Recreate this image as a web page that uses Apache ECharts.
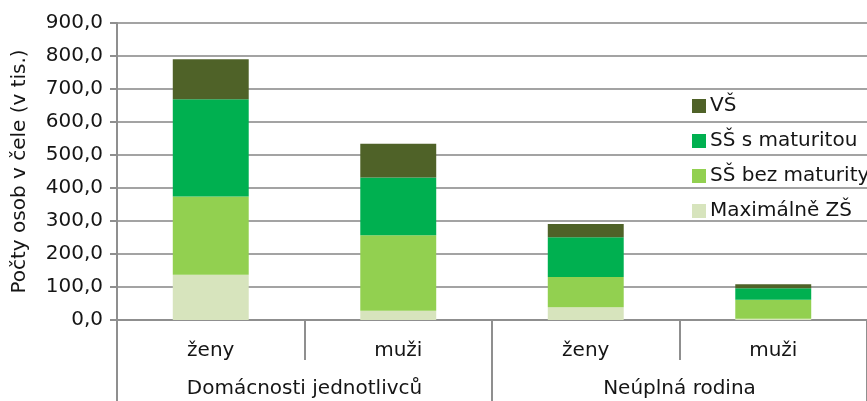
<!DOCTYPE html>
<html>
<head>
<meta charset="utf-8">
<script src="https://cdn.jsdelivr.net/npm/echarts@6/dist/echarts.min.js"></script>
<style>
  html, body { margin: 0; padding: 0; background: #fff; }
  #chart { width: 867px; height: 401px; }
</style>
</head>
<body>
<div id="chart"></div>
<script>
const categories = ['ženy', 'muži', 'ženy', 'muži']
const groups = ['Domácnosti jednotlivců', 'Neúplná rodina']
const yTicks = [0, 900, 100]

// stack order bottom -> top
const maxZs = [137, 28, 39, 4]
const ssBez = [237, 229, 91, 57]
const ssMat = [295, 175, 121, 35]
const vs = [121, 102, 40, 12]

const seriesNames = ['Maximálně ZŠ', 'SŠ bez maturity', 'SŠ s maturitou', 'VŠ']
const seriesColors = ['#d7e4bd', '#92d050', '#00b050', '#4f6228']
const seriesData = [maxZs, ssBez, ssMat, vs]

const font = 'DejaVu Sans'
const fontSize = 20
const textColor = '#151515'
const lineColor = '#a3a3a3'
const axisColor = '#8f8f8f'

const getOption = () => ({
  animation: false,
  textStyle: { fontFamily: font, color: textColor },
  grid: { left: 117, right: 0, top: 23, bottom: 81 },
  legend: {
    orient: 'vertical',
    left: 687,
    top: 91,
    itemWidth: 14,
    itemHeight: 14,
    itemGap: 15,
    icon: 'rect',
    selectedMode: false,
    textStyle: { fontFamily: font, fontSize, color: textColor, padding: [0, 0, 0, -1] },
    data: seriesNames.slice().reverse(),
  },
  xAxis: [
    {
      type: 'category',
      data: categories,
      axisLine: { lineStyle: { color: axisColor, width: 2 } },
      axisTick: { show: true, interval: 0, length: 40, lineStyle: { color: axisColor, width: 2 } },
      axisLabel: { interval: 0, margin: 21, fontSize, fontFamily: font, color: textColor },
    },
    {
      type: 'category',
      position: 'bottom',
      data: groups,
      axisLine: { show: false },
      axisTick: { show: true, interval: 0, length: 81, lineStyle: { color: axisColor, width: 2 } },
      axisLabel: { interval: 0, margin: 59, fontSize, fontFamily: font, color: textColor },
    },
  ],
  yAxis: {
    type: 'value',
    min: yTicks[0],
    max: yTicks[1],
    interval: yTicks[2],
    name: 'Počty osob v čele (v tis.)',
    nameLocation: 'middle',
    nameRotate: 90,
    nameGap: 87,
    nameTextStyle: { fontFamily: font, fontSize, color: textColor },
    axisLine: { show: true, lineStyle: { color: axisColor, width: 2 } },
    axisTick: { show: true, length: 7, lineStyle: { color: axisColor, width: 2 } },
    axisLabel: {
      margin: 14,
      fontSize,
      fontFamily: font,
      color: textColor,
      formatter: (v) => v.toFixed(1).replace('.', ','),
    },
    splitLine: { lineStyle: { color: lineColor, width: 2 } },
  },
  series: seriesNames.map((name, i) => ({
    name,
    type: 'bar',
    stack: 'total',
    xAxisIndex: 0,
    barWidth: '40.5%',
    itemStyle: { color: seriesColors[i] },
    data: seriesData[i],
  })),
})

const chart = echarts.init(document.getElementById('chart'))
chart.setOption(getOption())
</script>
</body>
</html>
